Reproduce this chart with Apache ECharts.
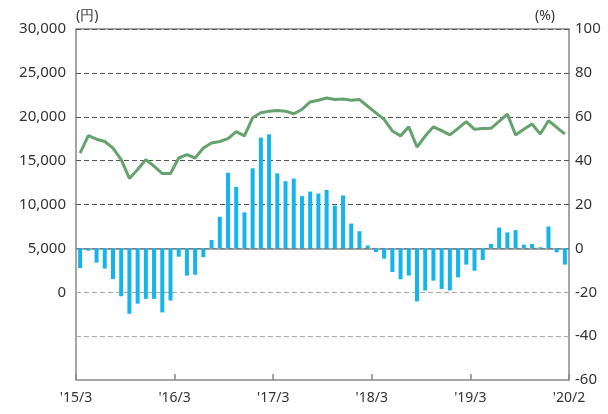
<!DOCTYPE html>
<html>
<head>
<meta charset="utf-8">
<script src="https://cdn.jsdelivr.net/npm/echarts@6/dist/echarts.min.js"></script>
<style>
    html, body { margin: 0; padding: 0; background: #fff; }
    #chart { width: 608px; height: 414px; }
</style>
</head>
<body>
<div id="chart"></div>
<script>
// 月次データ '15/3 〜 '20/2（60か月）
const months = [];
for (let i = 0; i < 60; i++) {
    const y = 2015 + Math.floor((i + 2) / 12);
    const m = ((i + 2) % 12) + 1;
    months.push(y + '/' + m);
}

// 棒グラフ（右軸 %）
const pctValues = [
    -9, -1, -6.5, -9.2, -14, -21.8, -29.8, -25.2, -23, -23, -29.2, -23.8,
    -3.8, -12.4, -12, -4, 3.8, 14.4, 34.5, 28, 16.4, 36.5, 50.5, 52,
    34.2, 30.6, 31.8, 23.8, 25.9, 25, 26.6, 19.5, 24.1, 11.3, 7.8, 1.3,
    -1.7, -4.7, -10.8, -14.1, -12.4, -24.2, -19.2, -14.7, -18.5, -19.2, -13.2, -7.4,
    -10.2, -5.3, 2, 9.5, 7.3, 8.3, 1.7, 2, 0.5, 10, -1.8, -7.4
];

// 折れ線（左軸 円）
const yenValues = [
    15860, 17860, 17440, 17180, 16430, 15110, 12970, 13980, 15110, 14360, 13530, 13530,
    15300, 15680, 15300, 16430, 17000, 17180, 17500, 18300, 17820, 19890, 20450, 20640,
    20710, 20640, 20340, 20830, 21690, 21880, 22140, 21960, 22030, 21880, 21960, 21200,
    20450, 19700, 18380, 17820, 18850, 16550, 17800, 18850, 18420, 17930, 18680, 19440,
    18570, 18650, 18680, 19470, 20300, 17930, 18570, 19170, 18040, 19550, 18800, 18010
];

// 横軸の目盛ラベル
const tickLabels = ["'15/3", "'16/3", "'17/3", "'18/3", "'19/3", "'20/2"];

const chart = echarts.init(document.getElementById('chart'));

const textColor = '#333';
const fontFamily = '"Noto Sans", sans-serif';

const option = {
    animation: false,
    grid: {
        left: 76,
        right: 39,
        top: 29,
        bottom: 34,
        show: true,
        borderColor: '#888',
        borderWidth: 1.5
    },
    xAxis: [
        {
            type: 'category',
            data: months,
            show: false,
            boundaryGap: true
        },
        {
            type: 'value',
            min: 0,
            max: 60,
            interval: 12,
            position: 'bottom',
            axisLine: { show: false, onZero: false },
            axisTick: {
                show: true,
                inside: true,
                length: 6,
                lineStyle: { color: '#888', width: 1.5 }
            },
            splitLine: { show: false },
            axisLabel: {
                showMinLabel: true,
                showMaxLabel: true,
                margin: 11,
                color: textColor,
                fontFamily: fontFamily,
                fontSize: 14,
                formatter: v => tickLabels[Math.round(v / 12)]
            }
        }
    ],
    yAxis: [
        {
            type: 'value',
            min: -10000,
            max: 30000,
            interval: 5000,
            name: '(円)',
            nameLocation: 'end',
            nameGap: 6,
            nameTextStyle: {
                align: 'left',
                color: textColor,
                fontFamily: fontFamily,
                fontSize: 14
            },
            axisLine: { show: false },
            axisTick: { show: false },
            axisLabel: {
                margin: 10,
                color: textColor,
                fontFamily: fontFamily,
                fontSize: 15,
                formatter: v => v < 0 ? '' : v.toLocaleString('en-US')
            },
            splitLine: {
                show: true,
                lineStyle: {
                    type: [5, 3],
                    width: 1.2,
                    color: ['#aaa', '#aaa', '#aaa', '#555', '#555', '#555', '#555', '#555', '#555']
                }
            }
        },
        {
            type: 'value',
            min: -60,
            max: 100,
            interval: 20,
            name: '(%)',
            nameLocation: 'end',
            nameGap: 6,
            nameTextStyle: {
                align: 'right',
                padding: [0, 14, 0, 0],
                color: textColor,
                fontFamily: fontFamily,
                fontSize: 14
            },
            axisLine: { show: false },
            axisTick: { show: false },
            splitLine: { show: false },
            axisLabel: {
                margin: 6,
                color: textColor,
                fontFamily: fontFamily,
                fontSize: 15
            }
        }
    ],
    series: [
        {
            type: 'bar',
            xAxisIndex: 0,
            yAxisIndex: 1,
            data: pctValues,
            barWidth: 4,
            itemStyle: { color: '#14b4ec' },
            markLine: {
                silent: true,
                symbol: 'none',
                label: { show: false },
                lineStyle: { color: '#888', type: 'solid', width: 1.5 },
                data: [{ yAxis: 0 }],
                z: 1
            }
        },
        {
            type: 'line',
            xAxisIndex: 0,
            yAxisIndex: 0,
            data: yenValues,
            symbol: 'none',
            lineStyle: { color: '#66a26e', width: 3 },
            z: 5
        }
    ]
};

chart.setOption(option);
</script>
</body>
</html>
